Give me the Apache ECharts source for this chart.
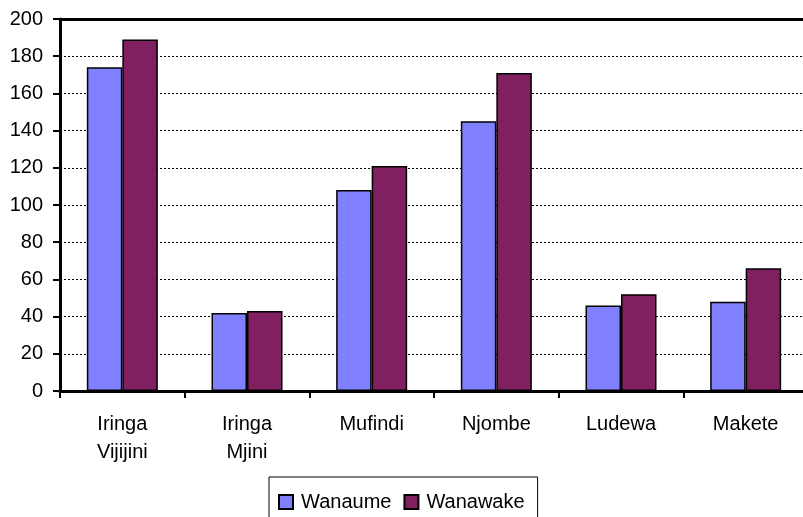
<!DOCTYPE html>
<html>
<head>
<meta charset="utf-8">
<script src="https://cdn.jsdelivr.net/npm/echarts@6/dist/echarts.min.js"></script>
<style>
html,body{margin:0;padding:0;background:#fff;}
#c{width:803px;height:517px;}
</style>
</head>
<body>
<div id="c"></div>
<script>
var categories = ['Iringa\nVijijini', 'Iringa\nMjini', 'Mufindi', 'Njombe', 'Ludewa', 'Makete'];
var wanaume = [174, 42, 108, 145, 46, 48];
var wanawake = [189, 43, 121, 171, 52, 66];
var seriesNames = ['Wanaume', 'Wanawake'];
var yTicks = {min: 0, max: 200, interval: 20};

var font = '"Liberation Sans", Arial, sans-serif';
var chart = echarts.init(document.getElementById('c'), null, {renderer: 'canvas'});
chart.setOption({
  animation: false,
  backgroundColor: '#ffffff',
  grid: {
    left: 60, top: 19, width: 748, height: 372,
    outerBoundsMode: 'none', containLabel: false,
    show: false
  },
  legend: {
    left: 269, top: 477,
    padding: [15, 13, 15, 9],
    borderColor: '#000', borderWidth: 1,
    itemWidth: 14, itemHeight: 14, itemGap: 12,
    icon: 'rect',
    textStyle: {fontFamily: font, fontSize: 20, color: '#000', padding: [0, 0, 0, 3]},
    data: seriesNames
  },
  xAxis: [{
    type: 'category',
    data: categories,
    axisLine: {lineStyle: {color: '#000', width: 3}},
    axisTick: {show: true, length: 7, lineStyle: {color: '#000', width: 2}},
    axisLabel: {
      fontFamily: font, fontSize: 20, color: '#000', margin: 19,
      lineHeight: 28, interval: 0
    },
    splitLine: {show: false}
  }, {
    type: 'category',
    position: 'top',
    data: categories,
    axisLine: {show: true, lineStyle: {color: '#000', width: 3}},
    axisTick: {show: false},
    axisLabel: {show: false},
    splitLine: {show: false}
  }],
  yAxis: {
    type: 'value',
    min: yTicks.min, max: yTicks.max, interval: yTicks.interval,
    axisLine: {show: true, lineStyle: {color: '#000', width: 3}},
    axisTick: {show: true, length: 7, lineStyle: {color: '#000', width: 2}},
    axisLabel: {fontFamily: font, fontSize: 20, color: '#000', margin: 17},
    splitLine: {show: true, lineStyle: {color: '#000', width: 1, type: [2, 2]}}
  },
  series: [
    {
      name: seriesNames[0], type: 'bar', data: wanaume, xAxisIndex: 0,
      barWidth: 35.5, barGap: '0%',
      itemStyle: {color: '#8080ff', borderColor: '#000', borderWidth: 1.5}
    },
    {
      name: seriesNames[1], type: 'bar', data: wanawake, xAxisIndex: 0,
      barWidth: 35.5, barGap: '0%',
      itemStyle: {color: '#802060', borderColor: '#000', borderWidth: 1.5}
    }
  ]
});
</script>
</body>
</html>
